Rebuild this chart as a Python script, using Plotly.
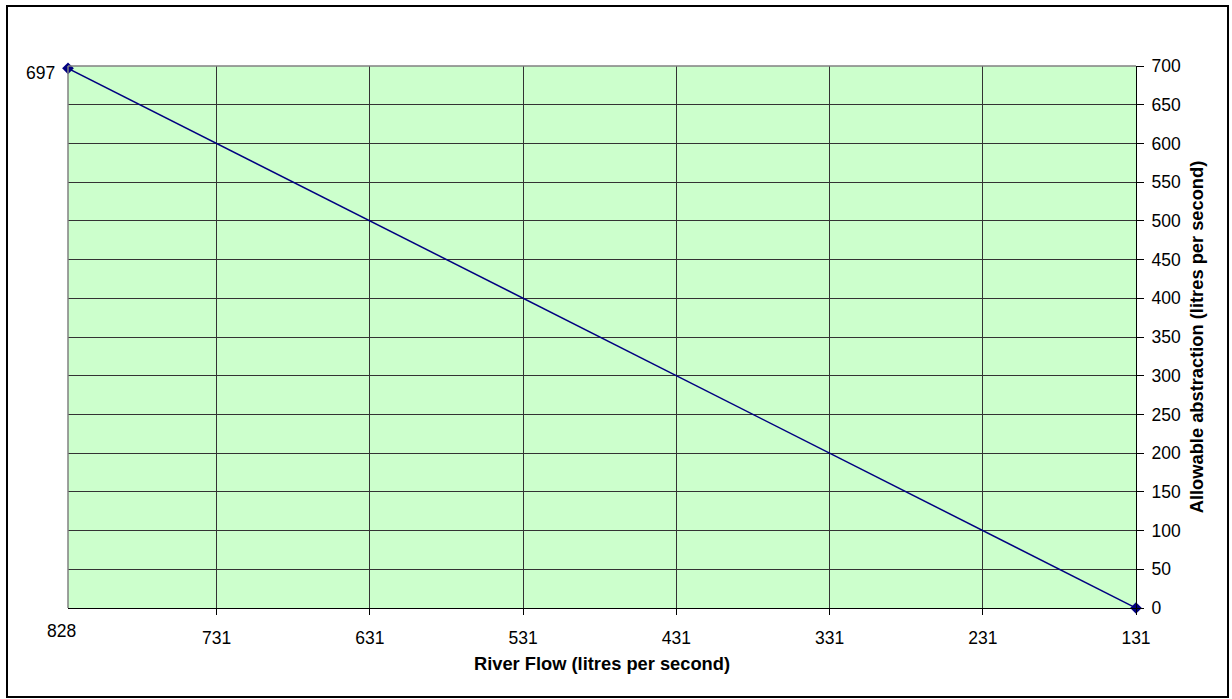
import plotly.graph_objects as go

river_flow = [828, 131]
abstraction = [697, 0]
x_ticks = [731, 631, 531, 431, 331, 231, 131]
y_ticks = list(range(0, 701, 50))

W, H = 1232, 699
L, R, T, B = 68, 1136, 66, 608

def px_to_paper_x(px):
    return (px - L) / (R - L)

def px_to_paper_y(py):
    return (B - py) / (B - T)

fig = go.Figure()
fig.add_trace(go.Scatter(
    x=river_flow, y=abstraction, mode="lines+markers",
    line=dict(color="#000080", width=1.5),
    marker=dict(symbol="diamond", size=9, color="#000080"),
    cliponaxis=False,
    hoverinfo="x+y", showlegend=False,
))

TICK = 17.5
TITLE = 18.3
font = dict(family="Liberation Sans, Arial, sans-serif", size=TICK, color="#000000")

fig.update_layout(
    width=W, height=H,
    margin=dict(l=L, r=W - R, t=T, b=H - B),
    plot_bgcolor="#CCFFCC", paper_bgcolor="#FFFFFF",
    font=font,
    xaxis=dict(
        range=[828, 131], tickvals=x_ticks, ticktext=[str(v) for v in x_ticks],
        showgrid=True, gridcolor="#333333", gridwidth=1,
        showline=True, linecolor="#000000", linewidth=1,
        ticks="outside", ticklen=6, tickcolor="#000000",
        ticklabelstandoff=8,
        zeroline=False,
        title=dict(text="<b>River Flow (litres per second)</b>", font=dict(size=TITLE), standoff=10),
        tickfont=dict(size=TICK),
    ),
    yaxis=dict(
        side="right", range=[0, 700], tickvals=y_ticks,
        showgrid=True, gridcolor="#333333", gridwidth=1,
        showline=True, linecolor="#000000", linewidth=1,
        ticks="outside", ticklen=7, tickcolor="#000000",
        ticklabelstandoff=4,
        zeroline=False,
        title=dict(text="<b>Allowable abstraction (litres per second)</b>", font=dict(size=TITLE), standoff=10),
        tickfont=dict(size=TICK),
    ),
    shapes=[
        dict(type="line", xref="paper", yref="paper", x0=0, x1=0, y0=0, y1=1,
             line=dict(color="#808080", width=1.5), layer="above"),
        dict(type="line", xref="paper", yref="paper", x0=0, x1=1, y0=1, y1=1,
             line=dict(color="#808080", width=1.5), layer="above"),
        dict(type="rect", xref="paper", yref="paper",
             x0=px_to_paper_x(7), x1=px_to_paper_x(1228),
             y0=px_to_paper_y(697), y1=px_to_paper_y(6),
             line=dict(color="#000000", width=2), layer="below"),
    ],
    annotations=[
        dict(x=river_flow[0], y=abstraction[0], xref="x", yref="y",
             text=str(abstraction[0]), showarrow=False,
             xanchor="right", yanchor="middle", xshift=-11, yshift=-5,
             font=dict(size=TICK)),
        dict(x=px_to_paper_x(61), y=px_to_paper_y(631), xref="paper", yref="paper",
             text=str(river_flow[0]), showarrow=False,
             xanchor="center", yanchor="middle", font=dict(size=TICK)),
    ],
)

fig.write_html("out.html", config={"displayModeBar": False},
               post_script="document.body.style.margin='0px';")
